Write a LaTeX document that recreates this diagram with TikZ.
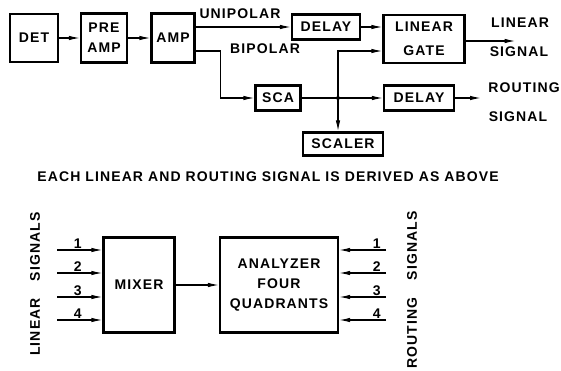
\documentclass[tikz,border=0pt]{standalone}
\usepackage{fontspec}
\setmainfont{Liberation Sans}[LetterSpace=8]
\usetikzlibrary{arrows.meta}

\begin{document}
\begin{tikzpicture}[x=1pt,y=-1pt,font=\fontsize{14}{20}\selectfont\bfseries,
  blk/.style={draw,line width=2.2pt,inner sep=0pt,align=center},
  wire/.style={line width=1.2pt},
  arr/.style={wire,-{Latex[length=11pt,width=4.5pt]}}]
  \useasboundingbox (0,0) rectangle (561,371);
  \node[blk,minimum width=48pt,minimum height=48pt] (det) at (34,38) {DET};
  \node[blk,minimum width=46pt,minimum height=49pt] (pre) at (104,38) {PRE\\AMP};
  \node[blk,minimum width=43pt,minimum height=49pt] (amp) at (173,38) {AMP};
  \node[blk,minimum width=68pt,minimum height=25pt] (dela) at (326,27) {DELAY};
  \node[blk,minimum width=81pt,minimum height=48pt] (gate) at (424,39) {LINEAR\\[4pt]GATE};
  \node[blk,minimum width=45pt,minimum height=25pt] (sca) at (278,98) {SCA};
  \node[blk,minimum width=70pt,minimum height=25pt] (delb) at (419,98) {DELAY};
  \node[blk,minimum width=80pt,minimum height=23pt] (scaler) at (343,144) {SCALER};
  \coordinate (jn) at (338,98);
  \draw[arr] (det) -- (pre);
  \draw[arr] (pre) -- (amp);
  \draw[arr] (amp.east |- dela) -- (dela);
  \draw[arr] (dela) -- (dela -| gate.west);
  \draw[arr] ([yshift=-13pt]amp.east) -- ++(25,0) |- (sca);
  \draw[arr] (sca) -- (delb);
  \draw[arr] (jn) |- ([yshift=-12pt]gate.west);
  \draw[arr] (jn) -- (jn |- scaler.north);
  \fill (jn) circle (2pt);
  \draw[arr] ([yshift=-2pt]gate.east) -- ++(50,0) coordinate (lout);
  \draw[arr] (delb) -- ++(62,0) coordinate (rout);
  \node (uni) at (240,14) {UNIPOLAR};
  \node (bip) at (265,49) {BIPOLAR};
  \node (lsa) at (520,23) {LINEAR};
  \node (lsb) at (519,52) {SIGNAL};
  \node (rsa) at (524,88) {ROUTING};
  \node (rsb) at (518,117) {SIGNAL};
  \node (note) at (268,177) {EACH LINEAR AND ROUTING SIGNAL IS DERIVED AS ABOVE};
  \node[blk,minimum width=71pt,minimum height=95pt] (mixer) at (139,285) {MIXER};
  \node[blk,minimum width=118pt,minimum height=95pt] (anal) at (279,285) {ANALYZER\\FOUR\\QUADRANTS};
  \draw[arr] (mixer) -- (anal);
  \foreach \n/\d in {1/35,2/12,3/-12,4/-35}{
    \draw[arr] ([xshift=-45pt,yshift=\d pt]mixer.west) -- ([yshift=\d pt]mixer.west)
      node[pos=0.45,above,inner sep=1pt] {\n};
    \draw[arr] ([xshift=47pt,yshift=\d pt]anal.east) -- ([yshift=\d pt]anal.east)
      node[pos=0.2,above,inner sep=1pt] {\n};
  }
  \node[rotate=90] (lin) at (35,284) {LINEAR\hspace{1.2em}SIGNALS};
  \node[rotate=90] (rou) at (412,290) {ROUTING\hspace{1.2em}SIGNALS};
\end{tikzpicture}
\end{document}
